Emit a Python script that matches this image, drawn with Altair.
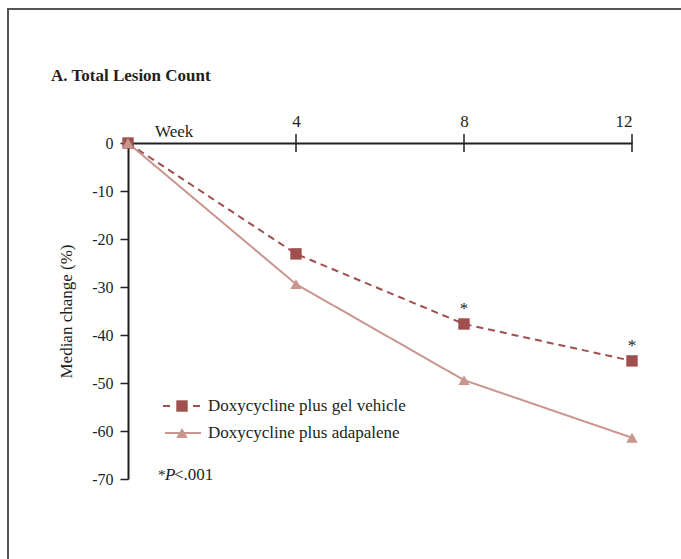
import altair as alt
import pandas as pd

# ---- data ----
weeks = [0, 4, 8, 12]
gel_vehicle = [0, -23.1, -37.7, -45.4]
adapalene = [0, -29.4, -49.4, -61.4]
series_names = ["Doxycycline plus gel vehicle", "Doxycycline plus adapalene"]
sig_weeks = [8, 12]
y_ticks = [0, -10, -20, -30, -40, -50, -60, -70]
x_ticks = [4, 8, 12]
title_text = "A. Total Lesion Count"
y_title = "Median change (%)"
x_title = "Week"

colors = ["#9f4f4e", "#c9958f"]
ink = "#231f20"
FONT = "Liberation Serif"

df = pd.DataFrame({
    "week": weeks * 2,
    "change": gel_vehicle + adapalene,
    "series": [series_names[0]] * len(weeks) + [series_names[1]] * len(weeks),
})
sig_df = pd.DataFrame({
    "week": sig_weeks,
    "change": [gel_vehicle[weeks.index(w)] for w in sig_weeks],
})
tick_df = pd.DataFrame({"week": x_ticks})
one = pd.DataFrame({"a": [0]})

x_enc = alt.X(
    "week:Q",
    scale=alt.Scale(domain=[0, 12], nice=False, zero=False),
    axis=alt.Axis(
        orient="top", values=x_ticks, title=None, ticks=False, grid=False,
        domainColor=ink, domainWidth=2, labelFontSize=17, labelColor=ink,
        labelFont=FONT, labelPadding=13, labelExpr="'' + datum.value",
    ),
)
y_enc = alt.Y(
    "change:Q",
    scale=alt.Scale(domain=[-70, 0], nice=False),
    axis=alt.Axis(
        values=y_ticks, title=y_title, grid=False,
        domainColor=ink, domainWidth=2, tickColor=ink, tickWidth=1.5, tickSize=8,
        labelFontSize=16, labelColor=ink, labelFont=FONT, labelPadding=7,
        titleFontSize=17, titleFont=FONT, titleFontWeight="normal", titleColor=ink,
        titlePadding=16, labelExpr="'' + datum.value",
    ),
)
color_enc = alt.Color("series:N", scale=alt.Scale(domain=series_names, range=colors), legend=None)

frame = alt.Chart(one).mark_rect(filled=False, stroke="#555555", strokeWidth=2).encode(
    x=alt.value(-120), x2=alt.value(700), y=alt.value(-134), y2=alt.value(600)
)

lines = alt.Chart(df).mark_line(strokeWidth=2).encode(
    x=x_enc, y=y_enc, color=color_enc,
    strokeDash=alt.StrokeDash("series:N", scale=alt.Scale(domain=series_names, range=[[7, 5], [1, 0]]), legend=None),
)
points = alt.Chart(df).mark_point(filled=True, size=130, opacity=1).encode(
    x=x_enc, y=y_enc, color=color_enc,
    shape=alt.Shape("series:N", scale=alt.Scale(domain=series_names, range=["square", "triangle-up"]), legend=None),
)
x_ticks_rules = alt.Chart(tick_df).mark_rule(color=ink, strokeWidth=1.5).encode(
    x=alt.X("week:Q"), y=alt.value(-9), y2=alt.value(9)
)
stars = alt.Chart(sig_df).mark_text(text="*", fontSize=17, font=FONT, color=ink, baseline="alphabetic", dy=-10).encode(
    x=alt.X("week:Q"), y=alt.Y("change:Q")
)

title = alt.Chart(one).mark_text(text=title_text, font=FONT, fontSize=17, fontWeight="bold", color=ink,
                                 align="left", baseline="alphabetic").encode(x=alt.value(-77), y=alt.value(-62))
week_lbl = alt.Chart(one).mark_text(text=x_title, font=FONT, fontSize=17, color=ink,
                                    align="left", baseline="alphabetic").encode(x=alt.value(27), y=alt.value(-6))

# legend (manual)
leg1_line = alt.Chart(one).mark_rule(color=colors[0], strokeWidth=2, strokeDash=[7, 23]).encode(
    x=alt.value(35), x2=alt.value(72), y=alt.value(263))
leg1_pt = alt.Chart(one).mark_point(filled=True, size=130, opacity=1, shape="square", color=colors[0]).encode(
    x=alt.value(54), y=alt.value(263))
leg1_txt = alt.Chart(one).mark_text(text=series_names[0], font=FONT, fontSize=17, color=ink, align="left",
                                    baseline="middle").encode(x=alt.value(80), y=alt.value(263))
leg2_line = alt.Chart(one).mark_rule(color=colors[1], strokeWidth=2).encode(
    x=alt.value(37), x2=alt.value(73), y=alt.value(290))
leg2_pt = alt.Chart(one).mark_point(filled=True, size=130, opacity=1, shape="triangle-up", color=colors[1]).encode(
    x=alt.value(54), y=alt.value(290))
leg2_txt = alt.Chart(one).mark_text(text=series_names[1], font=FONT, fontSize=17, color=ink, align="left",
                                    baseline="middle").encode(x=alt.value(80), y=alt.value(290))

p1 = alt.Chart(one).mark_text(text="*", font=FONT, fontSize=15, color=ink, align="left",
                              baseline="alphabetic").encode(x=alt.value(30), y=alt.value(337))
p2 = alt.Chart(one).mark_text(text="P", font=FONT, fontSize=17, fontStyle="italic", color=ink, align="left",
                              baseline="alphabetic").encode(x=alt.value(37), y=alt.value(337))
p3 = alt.Chart(one).mark_text(text="<.001", font=FONT, fontSize=17, color=ink, align="left",
                              baseline="alphabetic").encode(x=alt.value(46), y=alt.value(337))

chart = alt.layer(
    frame, lines, points, x_ticks_rules, stars, title, week_lbl,
    leg1_line, leg1_pt, leg1_txt, leg2_line, leg2_pt, leg2_txt, p1, p2, p3,
).properties(
    width=504, height=336,
    autosize=alt.AutoSizeParams(type="none"),
    padding={"left": 128, "top": 143, "right": 49, "bottom": 80},
    background="white",
).configure(font=FONT).configure_view(stroke=None)

chart.save("out.html", embed_options={"renderer": "svg", "actions": False})
